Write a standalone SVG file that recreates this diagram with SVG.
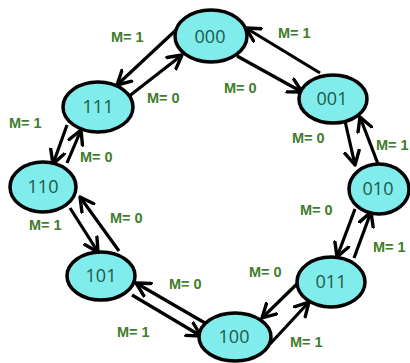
<svg xmlns="http://www.w3.org/2000/svg" width="410" height="363" viewBox="0 0 410 363">
<defs>
<marker id="ah" markerUnits="userSpaceOnUse" markerWidth="18" markerHeight="18" refX="13" refY="8" orient="auto" viewBox="0 0 16 16">
<path d="M1,1.5 L13,8 L1,14.5" fill="none" stroke="#000" stroke-width="3" stroke-linecap="round" stroke-linejoin="round"/>
</marker>
</defs>
<style>
.n ellipse{fill:#80ecec;stroke:#000;stroke-width:3.5}
.n text{font-family:"Open Sans","Liberation Sans",sans-serif;font-size:18px;fill:#1d5a47;text-anchor:middle}
.e line{stroke:#000;stroke-width:3.2;marker-end:url(#ah)}
.l{font-family:"Liberation Sans",sans-serif;font-size:14.5px;font-weight:bold;fill:#3f7d2d}
</style>
<rect width="410" height="363" fill="#fff"/>
<g class="e" id="connectors">
<line x1="176" y1="30" x2="117" y2="85"/>
<line x1="128" y1="97" x2="182" y2="55"/>
<line x1="320" y1="73" x2="246" y2="28"/>
<line x1="237" y1="56" x2="302" y2="92"/>
<line x1="345" y1="121" x2="355" y2="165"/>
<line x1="378" y1="164" x2="360" y2="117"/>
<line x1="355" y1="209" x2="337" y2="257"/>
<line x1="354" y1="258" x2="371" y2="212"/>
<line x1="300" y1="281" x2="262" y2="318"/>
<line x1="270" y1="344" x2="309" y2="302"/>
<line x1="205" y1="323" x2="136" y2="283"/>
<line x1="132" y1="295" x2="201" y2="336"/>
<line x1="70" y1="208" x2="98" y2="252"/>
<line x1="119" y1="251" x2="80" y2="197"/>
<line x1="67" y1="125" x2="53" y2="164"/>
<line x1="67" y1="163" x2="81" y2="130"/>
</g>
<g id="labels">
<text class="l" x="111" y="42">M= 1</text>
<text class="l" x="147" y="103">M= 0</text>
<text class="l" x="278" y="38">M= 1</text>
<text class="l" x="224" y="93">M= 0</text>
<text class="l" x="292" y="143">M= 0</text>
<text class="l" x="376" y="150">M= 1</text>
<text class="l" x="300" y="215">M= 0</text>
<text class="l" x="373" y="252">M= 1</text>
<text class="l" x="249" y="277">M= 0</text>
<text class="l" x="290" y="347">M= 1</text>
<text class="l" x="169" y="289">M= 0</text>
<text class="l" x="117" y="337">M= 1</text>
<text class="l" x="29" y="230">M= 1</text>
<text class="l" x="110" y="223">M= 0</text>
<text class="l" x="9" y="128">M= 1</text>
<text class="l" x="80" y="162">M= 0</text>
</g>
<g class="n" id="n000"><ellipse cx="211" cy="36" rx="36" ry="26"/><text x="210" y="43">000</text></g>
<g class="n" id="n001"><ellipse cx="333" cy="99" rx="34" ry="24"/><text x="332" y="105">001</text></g>
<g class="n" id="n010"><ellipse cx="379" cy="189" rx="30" ry="25"/><text x="378" y="195">010</text></g>
<g class="n" id="n011"><ellipse cx="331" cy="282" rx="34" ry="25"/><text x="331" y="288">011</text></g>
<g class="n" id="n100"><ellipse cx="235" cy="337" rx="36" ry="24"/><text x="234" y="343">100</text></g>
<g class="n" id="n101"><ellipse cx="101" cy="276" rx="34" ry="24"/><text x="101" y="282">101</text></g>
<g class="n" id="n110"><ellipse cx="43" cy="187" rx="33" ry="25"/><text x="43" y="193">110</text></g>
<g class="n" id="n111"><ellipse cx="98" cy="107" rx="35" ry="25"/><text x="98" y="113">111</text></g>
</svg>
